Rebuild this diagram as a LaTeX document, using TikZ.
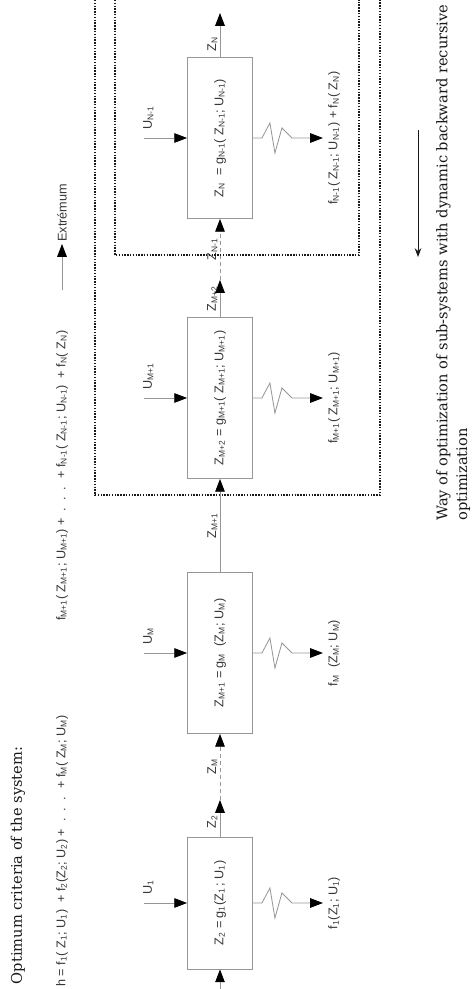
\documentclass[tikz,border=0pt]{standalone}
\usepackage{fontspec}
\newfontfamily\labelfont{Liberation Sans}
\newfontfamily\notefont{DejaVu Serif}
\usepackage{tikz}
\usetikzlibrary{arrows.meta, positioning}
\definecolor{wiregray}{RGB}{150,150,150}
\definecolor{inkgray}{RGB}{55,55,55}
\definecolor{framegray}{RGB}{25,25,25}
\newcommand{\ix}[1]{\textsubscript{#1}}

\begin{document}
\begin{tikzpicture}[x=0.025cm, y=0.025cm,
  lbl/.style={font=\labelfont\small, text=inkgray, inner sep=1.5pt},
  blk/.style={draw=wiregray, line width=0.6pt, minimum height=1.625cm, minimum width=4.025cm,
              inner sep=0pt, font=\labelfont\small, text=inkgray},
  arr/.style={draw=wiregray, line width=0.6pt, -{Triangle[length=3.2mm, width=2.4mm, color=black]}},
  frame/.style={draw=framegray, line width=1pt, densely dotted},
  title/.style={font=\notefont\fontsize{10.4}{14}\selectfont, text=framegray}]
\begin{scope}[rotate=90, transform shape]
  \useasboundingbox (0,0) rectangle (989,-475);

  % criterion
  \node[title, anchor=west] (crit) at (0,-18) {Optimum criteria of the system:};
  \node[lbl, anchor=west] (suma) at (0,-62)
    {h = f\ix{1}( Z\ix{1}; U\ix{1})\ \ + f\ix{2}(Z\ix{2}; U\ix{2}) + \ .\ \ .\ \ . \ + f\ix{M}( Z\ix{M}; U\ix{M})};
  \node[lbl, anchor=west] (sumb) at (366,-62)
    {f\ix{M+1}( Z\ix{M+1}; U\ix{M+1}) + \ .\ \ .\ \ . \ + f\ix{N-1}( Z\ix{N-1}; U\ix{N-1}) \ + f\ix{N}( Z\ix{N})};
  \coordinate (exa) at (699,-62);
  \node[lbl, anchor=west] (ext) at (745,-62) {Extrémum};
  \draw[arr] (exa) -- (ext.west);

  % sub-systems
  \node[blk, minimum width=3.3cm] (b1) at (86,-220) {Z\ix{2} = g\ix{1}(Z\ix{1}\,; U\ix{1})};
  \node[blk] (b2) at (336,-220) {Z\ix{M+1} = g\ix{M}\ \ (Z\ix{M}; U\ix{M})};
  \node[blk] (b3) at (591,-220) {Z\ix{M+2} = g\ix{M+1}( Z\ix{M+1}; U\ix{M+1})};
  \node[blk] (b4) at (851,-220) {Z\ix{N}\ \ = g\ix{N-1}( Z\ix{N-1}; U\ix{N-1})};

  % state chain
  \coordinate (zin) at (0,-220);
  \coordinate (t1) at (189,-220);
  \coordinate (t3) at (709,-220);
  \coordinate (zout) at (976,-220);
  \draw[arr] (zin) -- (b1.west);
  \draw[arr] (b1.east) -- (t1) node[lbl, pos=0.4, above] {Z\ix{2}};
  \draw[arr, densely dashed] (t1) -- (b2.west) node[lbl, midway, above] {Z\ix{M}};
  \draw[arr] (b2.east) -- (b3.west) node[lbl, midway, above] {Z\ix{M+1}};
  \draw[arr] (b3.east) -- (t3) node[lbl, midway, above] {Z\ix{M+2}};
  \draw[arr, densely dashed] (t3) -- (b4.west) node[lbl, midway, above] {Z\ix{N-1}};
  \draw[arr] (b4.east) -- (zout) node[lbl, pos=0.3, above] {Z\ix{N}};

  % controls and partial criteria
  \foreach \n/\us/\fo in {1/1/{f\ix{1}(Z\ix{1}; U\ix{1})},
                          2/M/{f\ix{M} \ (Z\ix{M}; U\ix{M})},
                          3/M+1/{f\ix{M+1}( Z\ix{M+1}; U\ix{M+1})},
                          4/N-1/{f\ix{N-1}( Z\ix{N-1}; U\ix{N-1}) + f\ix{N}( Z\ix{N})}} {
    \coordinate (u\n) at ([yshift=1.075cm]b\n.north);
    \coordinate (o\n) at ([yshift=-1.75cm]b\n.south);
    \draw[arr] (u\n) -- (b\n.north);
    \node[lbl, anchor=west] (ul\n) at ([xshift=4pt, yshift=-3pt]u\n) {U\ix{\us}};
    \draw[arr] (b\n.south) -- ++(0,-9) -- ++(15,-8) -- ++(-30,-5) -- ++(25,-7) -- ++(-10,-10) -- (o\n);
    \node[lbl, below=2pt] (f\n) at (o\n) {\fo};
  }

  % optimization frames
  \draw[frame] (989,-95) -| (494,-380) -- (989,-380);
  \draw[frame] (989,-115) -| (734,-359) -- (989,-359);

  % direction of optimization
  \coordinate (wa) at (859,-418);
  \coordinate (wb) at (732,-418);
  \draw[draw=framegray, line width=0.6pt, -{Stealth[length=2.2mm]}] (wa) -- (wb);
  \node[title, anchor=north west, align=left, inner sep=0pt] (way) at (468,-436)
    {Way of optimization of sub-systems with dynamic backward recursive\\optimization};
\end{scope}
\end{tikzpicture}
\end{document}
